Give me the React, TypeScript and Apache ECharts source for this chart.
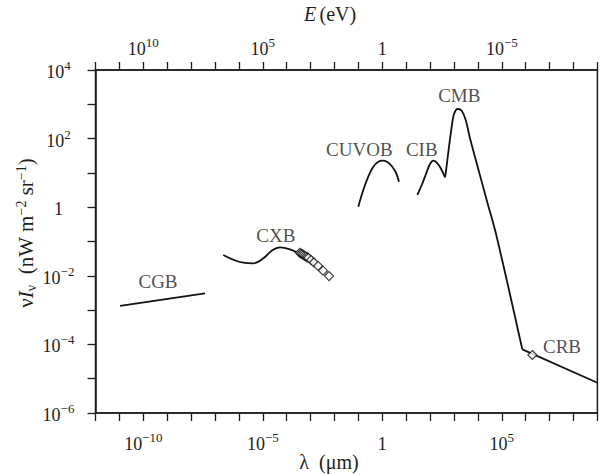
import React, { useEffect, useRef } from 'react';
import * as echarts from 'echarts';

const FONT = '"Liberation Serif", "Times New Roman", "DejaVu Serif", serif';
const INK = '#1e1e1e';
const LINE = '#111';

// Wavelength λ in μm, intensity νIν in nW m^-2 sr^-1
const cgbLam = [1.07e-11, 3.8e-8];
const cgbVal = [1.32e-3, 3.09e-3];

const cxbLam = [2.22e-7, 1.53e-6, 4.01e-6, 1.05e-5, 2.36e-5, 5.25e-5, 1.37e-4, 3.05e-4];
const cxbVal = [0.0404, 0.0241, 0.0231, 0.0324, 0.054, 0.0678, 0.0593, 0.0453];

const cxbObsLam = [3.55e-4, 3.98e-4, 4.47e-4, 5.01e-4, 5.62e-4, 6.46e-4, 7.24e-4, 8.13e-4, 1.05e-3, 1.38e-3, 2.04e-3, 3.31e-3, 5.89e-3];
const cxbObsVal = [0.0468, 0.0447, 0.0427, 0.0407, 0.038, 0.0363, 0.0347, 0.0331, 0.0288, 0.0245, 0.0195, 0.0141, 0.0098];

const cuvobLam = [0.099, 0.16, 0.259, 0.42, 0.681, 1.04, 1.62, 2.47, 3.74, 5.0];
const cuvobVal = [1.03, 3.17, 7.74, 15.2, 21.2, 22.7, 20.8, 15.9, 10.1, 5.55];

const cibLam = [29.1, 44.6, 67.3, 99.1, 136, 189, 278, 420];
const cibVal = [2.27, 4.44, 9.29, 18.2, 22.7, 19.8, 13.6, 7.45];

const cmbLam = [420, 450, 618, 802, 1000, 1430, 2100, 3090, 4670, 8910, 23300, 61200, 721000];
const cmbVal = [7.45, 9.72, 58.1, 222, 521, 729, 650, 348, 102, 19.1, 1.62, 0.138, 7.19e-5];

const crbLam = [721000, 1e9];
const crbVal = [7.19e-5, 7.64e-6];

const crbObsLam = [1.9e6];
const crbObsVal = [4.9e-5];

const labelNames = ['CGB', 'CXB', 'CUVOB', 'CIB', 'CMB', 'CRB'];
const labelLam = [4.12e-10, 3.5e-5, 0.109, 44.6, 1670, 3.3e7];
const labelVal = [7.05e-3, 0.145, 47.4, 46.6, 1810, 8.97e-5];

// axis extents (decades)
const lamMinExp = -12;
const lamMaxExp = 9;
const valMinExp = -6;
const valMaxExp = 4;

const lg = (v: number) => Math.log10(v);
const pts = (xs: number[], ys: number[]) => xs.map((x, i) => [lg(x), lg(ys[i])]);

const powLabel = (e: number) => {
  const r = Math.round(e);
  if (r === 0) return '{b|1}';
  return `{b|10}{s|${r < 0 ? '\u2212' + -r : r}}`;
};

const tickRich = {
  b: { fontSize: 18, fontFamily: FONT, color: INK, lineHeight: 22, verticalAlign: 'bottom' },
  s: { fontSize: 13, fontFamily: FONT, color: INK, lineHeight: 6, verticalAlign: 'top' },
};

export default function App() {
  const ref = useRef<HTMLDivElement>(null);
  useEffect(() => {
    if (!ref.current) return;
    const chart = echarts.init(ref.current, undefined, { renderer: 'svg' });
    const lineSeries = (data: number[][], smooth: number | boolean) => ({
      type: 'line',
      data,
      showSymbol: false,
      symbol: 'none',
      smooth,
      lineStyle: { color: LINE, width: 1.8 },
      silent: true,
      z: 3,
    });
    const markerSeries = (data: number[][]) => ({
      type: 'scatter',
      data,
      symbol: 'diamond',
      symbolSize: 9,
      itemStyle: { color: '#fff', borderColor: LINE, borderWidth: 1.2 },
      silent: true,
      z: 4,
    });
    const axisCommon = {
      type: 'value',
      interval: 1,
      splitLine: { show: false },
      axisLine: { show: true, onZero: false, lineStyle: { color: INK, width: 1.5 } },
      axisTick: { show: true, inside: false, length: 8, lineStyle: { color: INK, width: 1.3 } },
    };
    const textCenter = {
      align: 'center',
      verticalAlign: 'middle',
      textAlign: 'center',
      textVerticalAlign: 'middle',
    };
    chart.setOption({
      animation: false,
      backgroundColor: '#fff',
      grid: {
        left: 95.5,
        right: 3.6,
        top: 70,
        bottom: 61,
        show: true,
        borderColor: INK,
        borderWidth: 1.5,
        containLabel: false,
        outerBoundsMode: 'none',
      },
      xAxis: [
        {
          ...axisCommon,
          position: 'bottom',
          min: lamMinExp,
          max: lamMaxExp,
          axisLabel: {
            margin: 18,
            formatter: (v: number) => (Math.round(v) % 5 === 0 ? powLabel(v) : ''),
            rich: tickRich,
          },
        },
        {
          ...axisCommon,
          position: 'top',
          inverse: true,
          min: -lamMaxExp,
          max: -lamMinExp,
          axisLabel: {
            margin: 12,
            formatter: (v: number) => (Math.round(v) % 5 === 0 ? powLabel(v) : ''),
            rich: tickRich,
          },
        },
      ],
      yAxis: [
        {
          ...axisCommon,
          position: 'left',
          min: valMinExp,
          max: valMaxExp,
          axisLabel: {
            margin: 37,
            align: 'center',
            formatter: (v: number) => (Math.round(v) % 2 === 0 ? powLabel(v) : ''),
            rich: tickRich,
          },
        },
      ],
      graphic: [
        {
          type: 'text',
          x: 329,
          y: 462,
          silent: true,
          style: {
            text: 'λ  (μm)',
            fontSize: 20,
            fontFamily: FONT,
            fill: INK,
            ...textCenter,
          },
        },
        {
          type: 'text',
          x: 330,
          y: 14,
          silent: true,
          style: {
            text: '{i|E} {a|(eV)}',
            rich: {
              i: { fontSize: 20, fontFamily: FONT, fontStyle: 'italic', fill: INK },
              a: { fontSize: 20, fontFamily: FONT, fill: INK },
            },
            ...textCenter,
          },
        },
        {
          type: 'text',
          x: 26,
          y: 233,
          rotation: Math.PI / 2,
          silent: true,
          style: {
            text: '{a|ν}{i|I}{sub|ν}{a|  (nW m}{sup|\u22122}{a| sr}{sup|\u22121}{a|)}',
            rich: {
              a: { fontSize: 21, fontFamily: FONT, fill: INK, lineHeight: 24, verticalAlign: 'middle' },
              i: { fontSize: 21, fontFamily: FONT, fontStyle: 'italic', fill: INK, lineHeight: 24, verticalAlign: 'middle' },
              sub: { fontSize: 14, fontFamily: FONT, fill: INK, lineHeight: 8, verticalAlign: 'bottom' },
              sup: { fontSize: 14, fontFamily: FONT, fill: INK, lineHeight: 7, verticalAlign: 'top' },
            },
            ...textCenter,
          },
        },
      ],
      series: [
        lineSeries(pts(cgbLam, cgbVal), false),
        lineSeries(pts(cxbLam, cxbVal), 0.4),
        lineSeries(pts(cuvobLam, cuvobVal), 0.4),
        lineSeries(pts(cibLam, cibVal), 0.4),
        lineSeries(pts(cmbLam, cmbVal), 0.3),
        lineSeries(pts(crbLam, crbVal), false),
        markerSeries(pts(cxbObsLam, cxbObsVal)),
        markerSeries(pts(crbObsLam, crbObsVal)),
        {
          type: 'scatter',
          data: labelNames.map((n, i) => ({ name: n, value: [lg(labelLam[i]), lg(labelVal[i])] })),
          symbol: 'circle',
          symbolSize: 1,
          itemStyle: { color: 'rgba(0,0,0,0)' },
          silent: true,
          z: 5,
          label: {
            show: true,
            position: 'inside',
            formatter: '{b}',
            fontSize: 19,
            fontFamily: FONT,
            color: INK,
          },
        },
      ],
    });
    return () => chart.dispose();
  }, []);
  return (
    <div
      ref={ref}
      style={{ position: 'absolute', left: 0, top: 0, width: 601, height: 474, background: '#fff' }}
    />
  );
}
